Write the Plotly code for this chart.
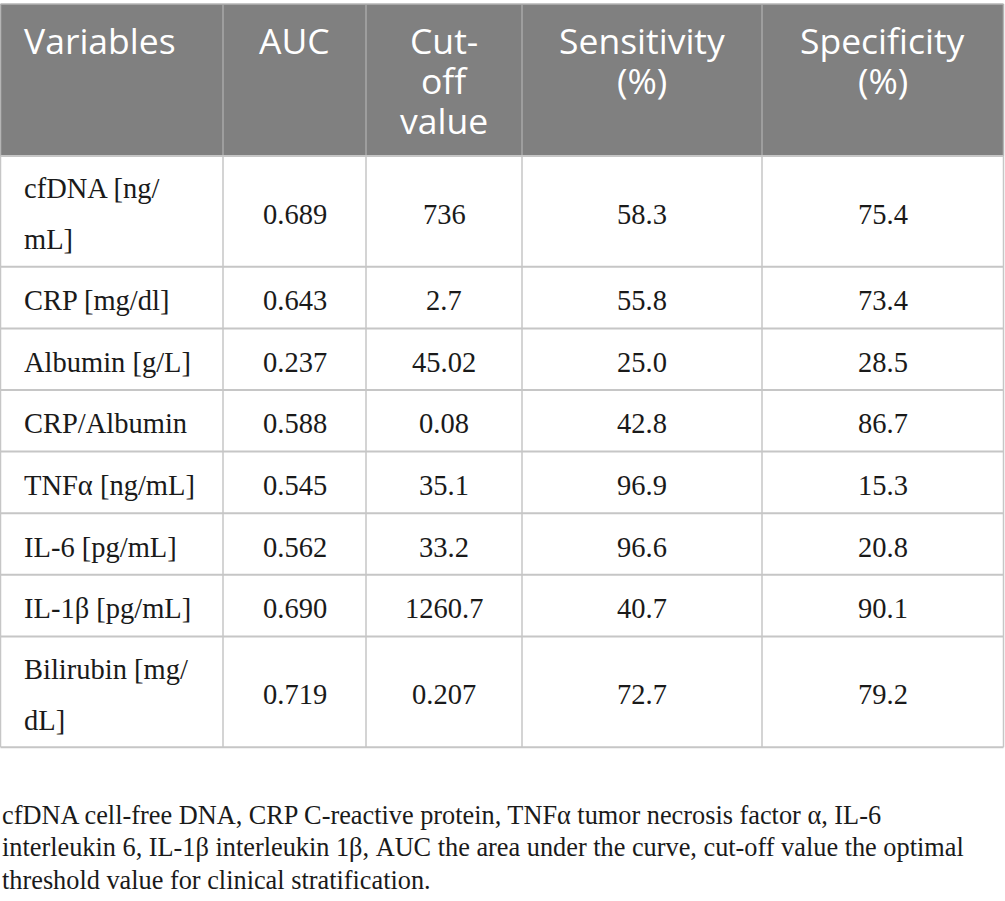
import plotly.graph_objects as go

# ---- data ----
headers = ["Variables", "AUC", "Cut-<br>off<br>value", "Sensitivity<br>(%)", "Specificity<br>(%)"]
variables = ["cfDNA [ng/<br>mL]", "CRP [mg/dl]", "Albumin [g/L]", "CRP/Albumin",
             "TNFα [ng/mL]", "IL-6 [pg/mL]", "IL-1β [pg/mL]", "Bilirubin [mg/<br>dL]"]
auc = ["0.689", "0.643", "0.237", "0.588", "0.545", "0.562", "0.690", "0.719"]
cutoff = ["736", "2.7", "45.02", "0.08", "35.1", "33.2", "1260.7", "0.207"]
sensitivity = ["58.3", "55.8", "25.0", "42.8", "96.9", "96.6", "40.7", "72.7"]
specificity = ["75.4", "73.4", "28.5", "86.7", "15.3", "20.8", "90.1", "79.2"]
footnote = [
    "cfDNA cell-free DNA, CRP C-reactive protein, TNFα tumor necrosis factor α, IL-6",
    "interleukin 6, IL-1β interleukin 1β, AUC the area under the curve, cut-off value the optimal",
    "threshold value for clinical stratification.",
]

# ---- layout constants ----
W, H = 1005, 901
col_edges = [0.5, 223, 366, 522, 762, 1003.5]
table_top, header_bottom = 4, 156
body_line, body_pad = 49.2, 12.4
text_line = 51
head_line = 40
HEAD_FONT = dict(family="Open Sans", size=35.5, color="white")
BODY_FONT = dict(family="Liberation Serif", size=28.5, color="#1a1a1a")
NOTE_FONT = dict(family="Liberation Serif", size=26.3, color="#1a1a1a")
HEAD_BG = "#808080"
LINE = "#c6c6c6"
HEAD_SEP = "#a9a9a9"

columns = [variables, auc, cutoff, sensitivity, specificity]
nrows = len(variables)

# row boundaries derived from the number of text lines in each row
row_edges = [header_bottom]
for i in range(nrows):
    nlines = max(len(c[i].split("<br>")) for c in columns)
    row_edges.append(row_edges[-1] + body_pad + body_line * nlines)
table_bottom = row_edges[-1]

shapes = []
annotations = []

# header background
shapes.append(dict(type="rect", x0=col_edges[0], x1=col_edges[-1], y0=table_top, y1=header_bottom,
                   fillcolor=HEAD_BG, line=dict(width=0), layer="below"))
# header top border
shapes.append(dict(type="line", x0=col_edges[0], x1=col_edges[-1], y0=table_top, y1=table_top,
                   line=dict(color="#b4b4b4", width=1.5)))
# vertical lines
for j, x in enumerate(col_edges):
    shapes.append(dict(type="line", x0=x, x1=x, y0=table_top, y1=header_bottom,
                       line=dict(color=HEAD_SEP if 0 < j < len(col_edges) - 1 else "#b4b4b4", width=1.5)))
    shapes.append(dict(type="line", x0=x, x1=x, y0=header_bottom, y1=table_bottom,
                       line=dict(color=LINE, width=1.5)))
# horizontal row lines
for k, y in enumerate(row_edges):
    shapes.append(dict(type="line", x0=col_edges[0], x1=col_edges[-1], y0=y, y1=y,
                       line=dict(color=LINE, width=2)))

# header texts
for j, h in enumerate(headers):
    lines = h.split("<br>")
    for li, t in enumerate(lines):
        if j == 0:
            x, xa = col_edges[0] + 21.5, "left"
        else:
            x, xa = (col_edges[j] + col_edges[j + 1]) / 2, "center"
        annotations.append(dict(x=x, y=40 + li * head_line, text=t, showarrow=False,
                                xanchor=xa, yanchor="middle", font=HEAD_FONT,
                                xref="x", yref="y"))

# body texts
for i in range(nrows):
    mid = (row_edges[i] + row_edges[i + 1]) / 2
    for j, col in enumerate(columns):
        lines = col[i].split("<br>")
        n = len(lines)
        for li, t in enumerate(lines):
            y = mid + 3 + (li - (n - 1) / 2) * text_line
            if j == 0:
                x, xa = col_edges[0] + 21.5, "left"
            else:
                x, xa = (col_edges[j] + col_edges[j + 1]) / 2, "center"
            annotations.append(dict(x=x, y=y, text=t, showarrow=False,
                                    xanchor=xa, yanchor="middle", font=BODY_FONT,
                                    xref="x", yref="y"))

# footnote
for li, t in enumerate(footnote):
    annotations.append(dict(x=0, y=815 + li * 32.5, text=t, showarrow=False,
                            xanchor="left", yanchor="middle", font=NOTE_FONT,
                            xref="x", yref="y"))

fig = go.Figure()
fig.add_trace(go.Scatter(x=[0, W], y=[0, H], mode="markers", marker=dict(opacity=0),
                         hoverinfo="skip", showlegend=False))
fig.update_layout(
    width=W, height=H, margin=dict(l=0, r=0, t=0, b=0),
    paper_bgcolor="white", plot_bgcolor="white",
    xaxis=dict(range=[0, W], visible=False, fixedrange=True),
    yaxis=dict(range=[H, 0], visible=False, fixedrange=True),
    shapes=shapes, annotations=annotations, showlegend=False,
)
fig.write_html("out.html", config={"displayModeBar": False},
               post_script="document.body.style.margin='0';document.body.style.overflow='hidden';")
